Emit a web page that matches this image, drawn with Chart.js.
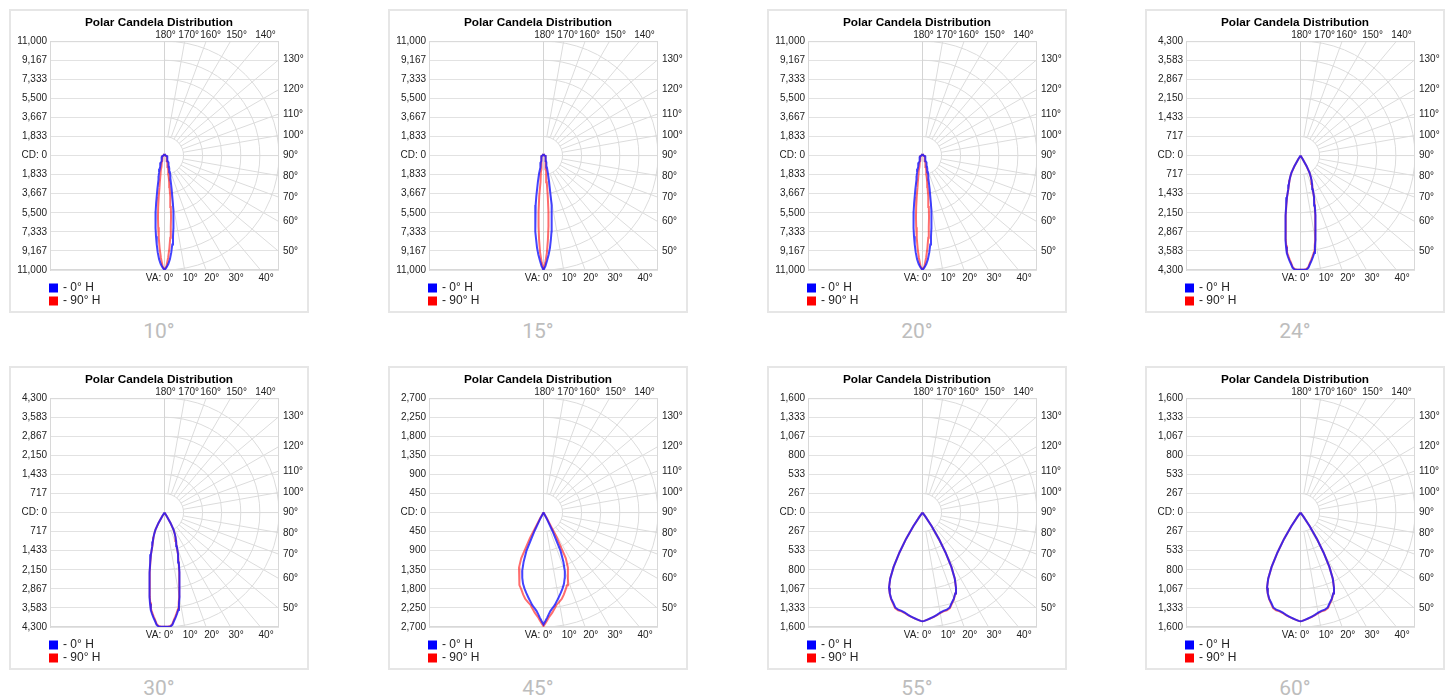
<!DOCTYPE html>
<html><head><meta charset="utf-8">
<script src="https://cdn.jsdelivr.net/npm/chart.js@4.4.1/dist/chart.umd.min.js"></script>
<style>
html,body{margin:0;padding:0;background:#fff;width:1451px;height:699px;overflow:hidden;}
.box{position:absolute;width:300px;height:304px;box-sizing:border-box;border:2px solid #e6e6e6;background:#fff}
.box canvas{position:absolute;left:-2px;top:-2px}
.cap{position:absolute;width:300px;text-align:center;font-family:Roboto,"Liberation Sans",sans-serif;font-size:21px;line-height:24px;color:#bdbdbd}
</style></head><body>
<script>
// ---------------- data ----------------
const beamTitles = ['10°','15°','20°','24°','30°','45°','55°','60°'];
const cdAxisMax  = [11000, 11000, 11000, 4300, 4300, 2700, 1600, 1600];
const seriesLabels = ['- 0° H', '- 90° H'];
const verticalAngles = [0,1,2,3,4,5,6,7,8,9,10,12,14,16,18,20,22,24,26,28,30,32,34,36,38,40,45,50,60,70,80,90,180];
const gridAngleLabels = [0,10,20,30,40,50,60,70,80,90,100,110,120,130,140,150,160,170,180];
const topLabelShift = {140: 5, 150: 6, 160: 4.5, 170: 4, 180: 1};
const ringCount = 6;

const cd10_0H  = [11000,10750,10440,9970,9330,8580,7810,7020,6230,5420,4630,3300,2390,2040,1690,1340,1150,1020,890,760,630,560,510,470,440,410,370,340,300,260,210,110,150];
const cd10_90H = [11000,10640,9850,8930,7920,6920,5990,4990,3990,3070,2590,1840,1490,1130,930,820,700,580,470,420,390,370,350,340,330,320,300,290,270,240,190,100,150];
const cd15_0H  = [11000,10630,10070,9520,8890,8120,7350,6550,5740,4820,3980,2590,1760,1200,930,820,700,580,470,420,390,370,350,340,330,320,300,290,270,240,190,100,150];
const cd15_90H = [11000,10260,9330,8100,6810,5450,3920,2590,1870,1600,1330,940,820,700,570,450,420,400,390,380,370,360,350,340,330,320,300,290,270,240,190,100,150];
const cd20_0H  = [11000,10750,10440,9970,9330,8580,7810,7020,6230,5420,4630,3300,2390,2040,1690,1340,1150,1020,890,760,630,560,510,470,440,410,370,340,300,260,210,110,150];
const cd20_90H = [11000,10640,9850,8930,7920,6920,5990,4990,3990,3070,2590,1840,1490,1130,930,820,700,580,470,420,390,370,350,340,330,320,300,290,270,240,190,100,150];
const cd24_0H  = [4290,4290,4290,4285,4230,4090,3970,3840,3700,3470,3240,2700,2320,1950,1650,1350,1170,1020,870,720,450,150,40,0,0,0,0,0,0,0,0,0,0];
const cd24_90H = [4290,4290,4285,4270,4200,4050,3920,3790,3650,3420,3190,2660,2290,1920,1630,1330,1150,1010,860,710,440,140,30,0,0,0,0,0,0,0,0,0,0];
const cd30_0H  = [4290,4290,4290,4285,4230,4090,3970,3840,3700,3470,3240,2700,2320,1950,1650,1350,1170,1020,870,720,450,150,40,0,0,0,0,0,0,0,0,0,0];
const cd30_90H = [4290,4290,4285,4270,4200,4050,3920,3790,3650,3420,3190,2660,2290,1920,1630,1330,1150,1010,860,710,440,140,30,0,0,0,0,0,0,0,0,0,0];
const cd45_0H  = [2640,2560,2480,2400,2330,2280,2240,2195,2140,2090,2040,1945,1850,1750,1620,1470,1250,990,470,150,30,0,0,0,0,0,0,0,0,0,0,0,0];
const cd45_90H = [2680,2610,2540,2470,2420,2370,2310,2255,2200,2170,2140,2080,1990,1890,1800,1670,1540,1420,1200,670,150,30,0,0,0,0,0,0,0,0,0,0,0];
const cd55_0H  = [1520,1515,1505,1495,1485,1475,1465,1455,1445,1432,1420,1405,1400,1380,1325,1280,1220,1150,1030,860,640,430,230,70,0,0,0,0,0,0,0,0,0];
const cd55_90H = [1520,1515,1505,1495,1487,1478,1468,1458,1448,1437,1426,1412,1408,1390,1335,1285,1222,1150,1030,860,640,430,230,70,0,0,0,0,0,0,0,0,0];
const cd60_0H  = [1520,1515,1505,1495,1485,1475,1465,1455,1445,1432,1420,1405,1400,1380,1325,1280,1220,1150,1030,860,640,430,230,70,0,0,0,0,0,0,0,0,0];
const cd60_90H = [1520,1515,1505,1495,1487,1478,1468,1458,1448,1437,1426,1412,1408,1390,1335,1285,1222,1150,1030,860,640,430,230,70,0,0,0,0,0,0,0,0,0];

const candela0H  = [cd10_0H, cd15_0H, cd20_0H, cd24_0H, cd30_0H, cd45_0H, cd55_0H, cd60_0H];
const candela90H = [cd10_90H, cd15_90H, cd20_90H, cd24_90H, cd30_90H, cd45_90H, cd55_90H, cd60_90H];

// ---------------- layout ----------------
const boxLefts = [9, 388, 767, 1145];
const boxTops = [9, 366];
const FONT = '"Liberation Sans", Arial, sans-serif';
const TEXT = '#222';

// polar curve: mirrored half then measured half
function polarPoints(values){
  const pts = [];
  for (let i = verticalAngles.length - 1; i >= 0; i--) {
    const g = verticalAngles[i] * Math.PI / 180, I = values[i];
    pts.push({x: -I * Math.sin(g), y: -I * Math.cos(g)});
  }
  for (let i = 0; i < verticalAngles.length; i++) {
    const g = verticalAngles[i] * Math.PI / 180, I = values[i];
    pts.push({x: I * Math.sin(g), y: -I * Math.cos(g)});
  }
  return pts;
}
function fmtCd(v){
  if (Math.abs(v) < 1e-6) return 'CD: 0';
  return Math.round(Math.abs(v)).toLocaleString('en-US');
}

const polarGrid = {
  id: 'polarGrid',
  beforeDatasetsDraw(chart){
    const {ctx, chartArea: a, scales: {x, y}} = chart;
    const R = chart.options.plugins.polarGrid.R;
    const cx = x.getPixelForValue(0), cy = y.getPixelForValue(0);
    const px = v => cy - y.getPixelForValue(v);
    ctx.save();
    ctx.beginPath(); ctx.rect(a.left, a.top, a.right - a.left, a.bottom - a.top); ctx.clip();
    ctx.strokeStyle = '#dcdcdc'; ctx.lineWidth = 1;
    for (let k = 1; k <= ringCount; k++) {
      ctx.beginPath(); ctx.arc(cx, cy, px(R * k / ringCount), -Math.PI/2, Math.PI/2); ctx.stroke();
    }
    const r0 = px(R / ringCount), r1 = px(R * 2);
    gridAngleLabels.forEach(t => {
      if (t === 0 || t === 180) return;
      const rad = t * Math.PI / 180, dx = Math.sin(rad), dy = Math.cos(rad);
      ctx.beginPath(); ctx.moveTo(cx + r0*dx, cy + r0*dy); ctx.lineTo(cx + r1*dx, cy + r1*dy); ctx.stroke();
    });
    ctx.strokeStyle = '#d4d4d4';
    ctx.beginPath(); ctx.moveTo(cx, a.top); ctx.lineTo(cx, a.bottom); ctx.stroke();
    ctx.restore();
    ctx.save();
    ctx.strokeStyle = '#d8d8d8'; ctx.lineWidth = 1;
    ctx.strokeRect(a.left + 0.5, a.top + 0.5, a.right - a.left - 1, a.bottom - a.top - 1);
    ctx.restore();
  },
  afterDraw(chart){
    const {ctx, chartArea: a, scales: {x, y}} = chart;
    const cx = x.getPixelForValue(0), cy = y.getPixelForValue(0);
    ctx.save();
    ctx.font = '10px ' + FONT; ctx.fillStyle = TEXT;
    gridAngleLabels.forEach(t => {
      const rad = t * Math.PI / 180, dx = Math.sin(rad), dy = Math.cos(rad);
      let s = Infinity;
      if (dx > 1e-9) s = Math.min(s, (a.right - cx) / dx);
      if (dy > 1e-9) s = Math.min(s, (a.bottom - cy) / dy);
      if (dy < -1e-9) s = Math.min(s, (a.top - cy) / dy);
      const px = cx + s*dx, py = cy + s*dy;
      const label = t + '°';
      if (t === 0) {
        ctx.textAlign = 'right'; ctx.textBaseline = 'top';
        ctx.fillText('VA: ' + label, cx + 9, a.bottom + 3);
      } else if (t < 45) {
        ctx.textAlign = 'left'; ctx.textBaseline = 'top';
        ctx.fillText(label, px - 2, a.bottom + 3);
      } else if (t <= 135) {
        ctx.textAlign = 'left'; ctx.textBaseline = 'middle';
        ctx.fillText(label, a.right + 4, py);
      } else {
        ctx.textAlign = 'center'; ctx.textBaseline = 'bottom';
        ctx.fillText(label, px + (topLabelShift[t] || 0), a.top - 1);
      }
    });
    // legend
    ctx.font = '12px ' + FONT; ctx.textAlign = 'left'; ctx.textBaseline = 'middle';
    chart.data.datasets.forEach((ds, i) => {
      const yy = a.bottom + 18 + i * 13;
      ctx.fillStyle = ds.backgroundColor;
      ctx.fillRect(a.left - 1, yy - 4.5, 9, 9);
      ctx.fillStyle = TEXT;
      ctx.fillText(ds.label, a.left + 13, yy);
    });
    ctx.restore();
  }
};

beamTitles.forEach((name, idx) => {
  const col = idx % 4, row = Math.floor(idx / 4);
  const L = boxLefts[col], T = boxTops[row], R = cdAxisMax[idx];
  const box = document.createElement('div');
  box.className = 'box'; box.style.left = L + 'px'; box.style.top = T + 'px';
  const cv = document.createElement('canvas');
  cv.width = 300; cv.height = 304;
  box.appendChild(cv); document.body.appendChild(box);
  const cap = document.createElement('div');
  cap.className = 'cap'; cap.textContent = name;
  cap.style.left = L + 'px'; cap.style.top = (T + 310) + 'px';
  document.body.appendChild(cap);

  new Chart(cv, {
    type: 'scatter',
    data: { datasets: [
      { label: seriesLabels[0], data: polarPoints(candela0H[idx]), showLine: true,
        borderColor: 'rgba(20,20,255,0.8)', backgroundColor: '#0000ff', borderWidth: 2,
        pointRadius: 0, fill: false, tension: 0 },
      { label: seriesLabels[1], data: polarPoints(candela90H[idx]), showLine: true,
        borderColor: 'rgba(255,20,20,0.62)', backgroundColor: '#ff0000', borderWidth: 2,
        pointRadius: 0, fill: false, tension: 0 }
    ]},
    options: {
      responsive: false, animation: false, devicePixelRatio: 1,
      layout: { padding: { top: 0, right: 0, bottom: 43, left: 0 } },
      plugins: {
        legend: { display: false }, tooltip: { enabled: false },
        title: { display: true, text: 'Polar Candela Distribution', color: '#000',
                 font: { family: FONT, size: 11.8, weight: 'bold' }, padding: { top: 7, bottom: 11 } },
        polarGrid: { R }
      },
      scales: {
        x: { type: 'linear', min: -R, max: R, display: false },
        y: { type: 'linear', min: -R, max: R,
             afterBuildTicks(s){ s.ticks = Array.from({length: 2*ringCount + 1}, (_, i) => ({ value: -R + i * R / ringCount })); },
             afterFit(s){ s.width = 41; },
             grid: { color: '#e2e2e2', drawTicks: false },
             border: { display: true, color: '#d8d8d8' },
             ticks: { padding: 3, color: TEXT, autoSkip: false, font: { family: FONT, size: 10 }, callback: v => fmtCd(v) } },
        angleSpace: { type: 'linear', position: 'right', min: -R, max: R, display: true,
             afterFit(s){ s.width = 30; },
             grid: { display: false, drawTicks: false }, border: { display: false },
             ticks: { display: false } }
      }
    },
    plugins: [polarGrid]
  });
});
</script>
</body></html>
